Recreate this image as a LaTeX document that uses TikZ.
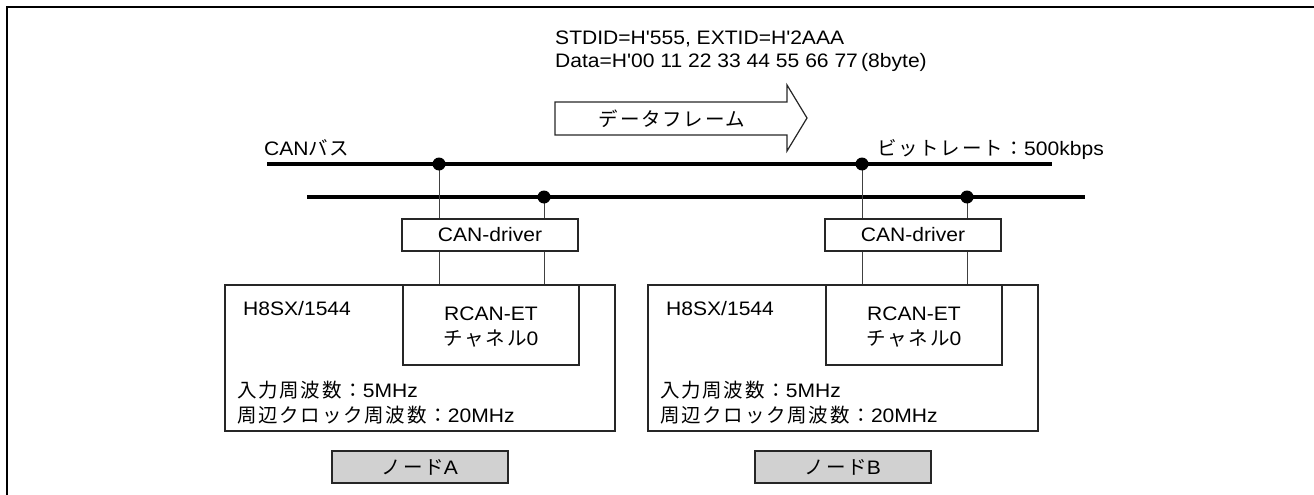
\documentclass[tikz,border=0pt]{standalone}
\usepackage{fontspec}
\setmainfont{Liberation Sans}[FakeStretch=1.08,Ligatures=TeXOff]
\newfontfamily\jp{Noto Sans CJK JP}[LetterSpace=9]
\begin{document}
\begin{tikzpicture}[x=1pt,y=-1pt,
  lbl/.style={inner sep=0pt,font=\fontsize{19.5}{23}\selectfont},
  boxline/.style={draw=black!85,line width=1.2pt},
  conn/.style={draw=black!75,line width=0.8pt},
  bus/.style={line width=3.2pt,black},
  dotpt/.style={fill=black}]
\useasboundingbox (0,0) rectangle (1314,495);
% outer frame (only top and left visible)
\coordinate (fr1) at (7,495);
\coordinate (fr2) at (7,7);
\coordinate (fr3) at (1314,7);
\draw[line width=2pt] (fr1) -- (fr2) -- (fr3);
% header text
\node[lbl,anchor=base west] (hdr1) at (555,45) {STDID=H'555, EXTID=H'2AAA};
\node[lbl,anchor=base west] (hdr2) at (555,67) {Data=H'00 11 22 33 44 55 66 77\,(8byte)};
% big arrow
\draw[boxline] (555,102) -- (787,102) -- (787,85) -- (807,118) -- (787,151) -- (787,135) -- (555,135) -- cycle;
\node[lbl] (frame) at (672,118.5) {\jp データフレーム};
% bus labels
\node[lbl,anchor=base west] (canbus) at (264,155) {CAN{\jp バス}};
\node[lbl,anchor=base west] (rate) at (877,155) {{\jp ビットレート：}500kbps};
% buses
\coordinate (bus1s) at (267,164);
\coordinate (bus1e) at (1052,164);
\coordinate (bus2s) at (307,197);
\coordinate (bus2e) at (1085,197);
\draw[bus] (bus1s) -- (bus1e);
\draw[bus] (bus2s) -- (bus2e);
\foreach \n/\dx in {A/0,B/423}{
\begin{scope}[xshift=\dx]
  \node[boxline,minimum width=390pt,minimum height=146pt,inner sep=0pt] (mcu\n) at (420,358) {};
  \node[boxline,fill=white,minimum width=176pt,minimum height=80pt,inner sep=0pt] (rcan\n) at (491,325) {};
  \node[lbl,anchor=base] (rc1\n) at (491,320) {RCAN-ET};
  \node[lbl,anchor=base] (rc2\n) at (491,345) {{\jp チャネル}0};
  \node[lbl,anchor=base west] (chip\n) at (243,315) {H8SX/1544};
  \node[lbl,anchor=base west] (fin\n) at (237,397) {{\jp 入力周波数：}5MHz};
  \node[lbl,anchor=base west] (fck\n) at (237,422) {{\jp 周辺クロック周波数：}20MHz};
  \node[boxline,minimum width=176pt,minimum height=32pt,inner sep=0pt,lbl] (drv\n) at (490,235) {CAN-driver};
  \node[boxline,fill=black!18,minimum width=176pt,minimum height=32pt,inner sep=0pt,lbl] (name\n) at (420,467) {{\jp ノード}\n};
  \coordinate (p1\n) at (439,164);
  \coordinate (p2\n) at (544,197);
\end{scope}
\draw[conn] (p1\n) -- (drv\n.north -| p1\n);
\draw[conn] (p2\n) -- (drv\n.north -| p2\n);
\draw[conn] (drv\n.south -| p1\n) -- (rcan\n.north -| p1\n);
\draw[conn] (drv\n.south -| p2\n) -- (rcan\n.north -| p2\n);
\fill[dotpt] (p1\n) circle (6.5);
\fill[dotpt] (p2\n) circle (6.5);
}
\end{tikzpicture}
\end{document}
